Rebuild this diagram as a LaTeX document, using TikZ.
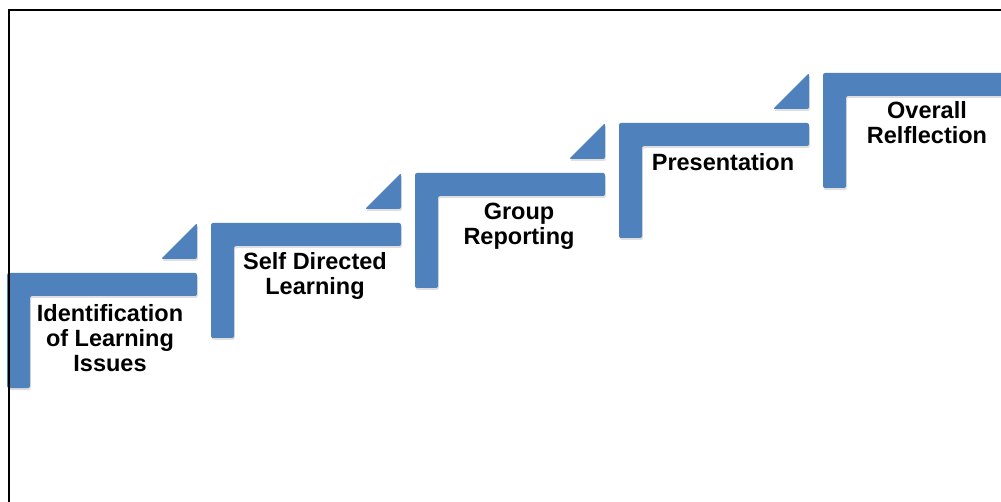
\documentclass[tikz,border=0pt]{standalone}
\usepackage{fontspec}
\setmainfont{Liberation Sans}
\usetikzlibrary{shadows}
\definecolor{stairblue}{HTML}{4F81BD}
\begin{document}
\begin{tikzpicture}[
                x = 1pt,
                y = -1pt,
                semithick
                ]

                \tikzstyle{stair}=[
                        fill = stairblue,
                        rounded corners = 2pt,
                        drop shadow = {shadow xshift = 0.8pt, shadow yshift = -2pt, opacity = 0.25}
                ]
                \tikzstyle{wedge}=[
                        fill = stairblue,
                        rounded corners = 2pt,
                        drop shadow = {shadow xshift = 0.8pt, shadow yshift = -2pt, opacity = 0.25}
                ]
                \tikzstyle{label}=[
                        align = center,
                        inner sep = 0pt,
                        font = \fontsize{23.5}{25}\selectfont\bfseries
                ]

                \useasboundingbox (0,0) rectangle (1001,502);
                \begin{scope}
                \clip (0,0) rectangle (1001,502);

                % stair 1
                \fill[stair] (7,273) -- (197,273) -- (197,296) -- (30,296) -- (30,388) -- (7,388) -- cycle;
                \fill[wedge] (161,259) -- (197,259) -- (197,223) -- cycle;
                % stair 2
                \fill[stair] (211,223) -- (401,223) -- (401,246) -- (234,246) -- (234,338) -- (211,338) -- cycle;
                \fill[wedge] (365,209) -- (401,209) -- (401,173) -- cycle;
                % stair 3
                \fill[stair] (415,173) -- (605,173) -- (605,196) -- (438,196) -- (438,288) -- (415,288) -- cycle;
                \fill[wedge] (569,159) -- (605,159) -- (605,123) -- cycle;
                % stair 4
                \fill[stair] (619,123) -- (809,123) -- (809,146) -- (642,146) -- (642,238) -- (619,238) -- cycle;
                \fill[wedge] (773,109) -- (809,109) -- (809,73) -- cycle;
                % stair 5
                \fill[stair] (823,73) -- (1013,73) -- (1013,96) -- (846,96) -- (846,188) -- (823,188) -- cycle;
                \end{scope}

                \node[label] (s1) at (110,338) {Identification\\of Learning\\Issues};
                \node[label] (s2) at (315,276) {Self Directed\\Learning};
                \node[label] (s3) at (519,226) {Group\\Reporting};
                \node[label] (s4) at (723,162) {Presentation};
                \node[label] (s5) at (927,123) {Overall\\Relflection};

                % frame
                \draw[line width = 2pt] (8.5,502) -- (8.5,10) -- (1001,10);
\end{tikzpicture}
\end{document}
